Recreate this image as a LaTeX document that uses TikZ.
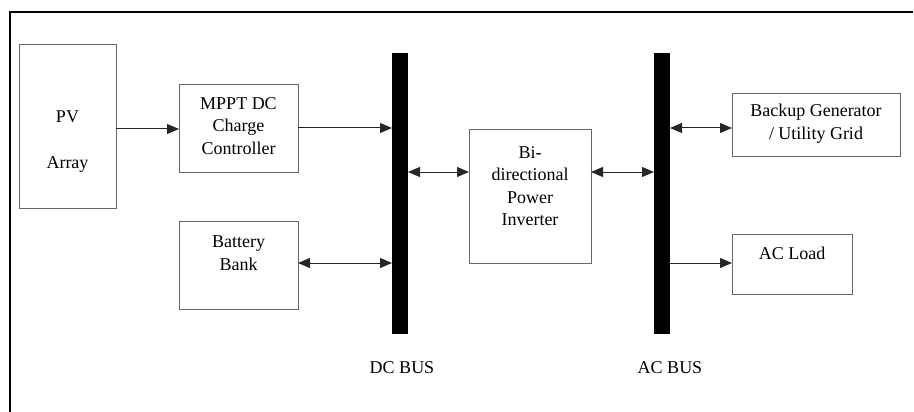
\documentclass[tikz,border=0pt]{standalone}
\usepackage{fontspec}
\setmainfont{Liberation Serif}
\usetikzlibrary{arrows.meta,calc}

\tikzset{
  blk/.style={draw=black!60, line width=0.9pt, rectangle, outer sep=0pt, inner sep=0pt},
  txt/.style={align=center, inner sep=0pt, font=\fontsize{18}{22.5}\selectfont, text=black},
  bus/.style={fill=black, draw=none, rectangle, outer sep=0pt, inner sep=0pt, minimum width=16pt, minimum height=281pt},
  flow/.style={draw=black!85, line width=1pt, -{Triangle[length=12pt,width=10pt]}},
  biflow/.style={draw=black!85, line width=1pt, {Triangle[length=12pt,width=10pt]}-{Triangle[length=12pt,width=10pt]}},
  frame/.style={draw=black, line width=1.3pt}
}

\begin{document}
\begin{tikzpicture}[x=1pt, y=-1pt]
  \useasboundingbox (0,0) rectangle (914,412);

  % outer frame (top and left edges only)
  \draw[frame] (10,412) -- (10,12) -- (913,12);

  % component blocks
  \node[blk, minimum width=97pt, minimum height=164pt,
        label={[txt, yshift=-16pt]center:PV\\[23.5pt]Array}] (pv) at (67.5,126) {};
  \node[blk, minimum width=119pt, minimum height=88pt,
        label={[txt, yshift=2pt]center:MPPT DC\\Charge\\Controller}] (mppt) at (238.5,128) {};
  \node[blk, minimum width=119pt, minimum height=88pt,
        label={[txt, yshift=12pt]center:Battery\\Bank}] (bat) at (238.5,265) {};
  \node[blk, minimum width=122pt, minimum height=134pt,
        label={[txt, yshift=10pt]center:Bi-\\directional\\Power\\Inverter}] (inv) at (530,196) {};
  \node[blk, minimum width=168pt, minimum height=63pt,
        label={[txt, yshift=1pt]center:Backup Generator\\/ Utility Grid}] (gen) at (816,124.5) {};
  \node[blk, minimum width=120pt, minimum height=60pt,
        label={[txt, yshift=11pt]center:AC Load}] (load) at (792,264) {};

  % bus bars
  \node[bus, label={[txt, label distance=27pt, xshift=2pt]below:DC BUS}] (dcbus) at (400,193.5) {};
  \node[bus, label={[txt, label distance=27pt, xshift=8pt]below:AC BUS}] (acbus) at (662,193.5) {};

  % connections
  \draw[flow] ([yshift=-1pt]pv.east |- mppt.west) -- ([yshift=-1pt]mppt.west);
  \draw[flow] (mppt.east) -- (mppt.east -| dcbus.west);
  \draw[biflow] ([yshift=2pt]bat.east) -- ([yshift=2pt]bat.east -| dcbus.west);
  \draw[biflow] ([yshift=24pt]inv.west -| dcbus.east) -- ([yshift=24pt]inv.west);
  \draw[biflow] ([yshift=24pt]inv.east) -- ([yshift=24pt]inv.east -| acbus.west);
  \draw[biflow] ([yshift=-3.5pt]gen.west -| acbus.east) -- ([yshift=-3.5pt]gen.west);
  \draw[flow] ([yshift=1pt]load.west -| acbus.east) -- ([yshift=1pt]load.west);
\end{tikzpicture}
\end{document}
